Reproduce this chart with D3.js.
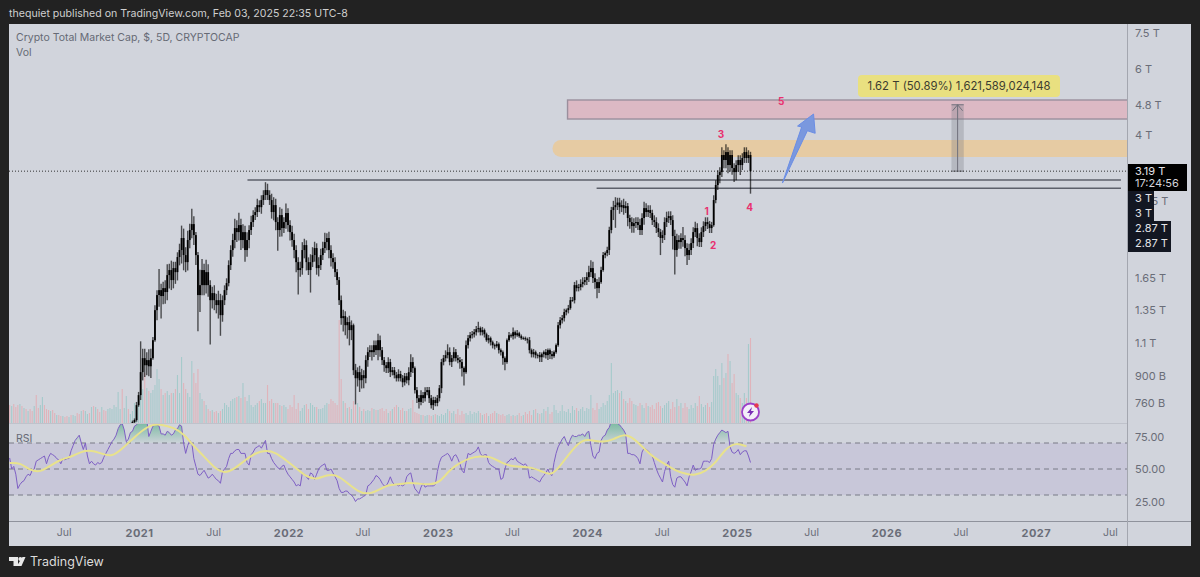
<!DOCTYPE html>
<html><head><meta charset="utf-8">
<script src="https://d3js.org/d3.v7.min.js"></script>
<style>html,body{margin:0;padding:0;background:#222;overflow:hidden}svg{display:block}text{font-family:Inter,Roboto,"Liberation Sans",sans-serif}</style>
</head><body><svg id="c" width="1200" height="577"></svg>
<script>
// ---- DATA ----
const lastBar = "2025-02-03";
const closes = [ // billions USD, 5D closes
675,684,750,798,920,1003,960,991,954,1003,1121,1350,1482,1528,1473,1547,1510,1677,1730,1626,
1751,1708,1875,1958,2109,1898,1817,2083,2216,2299,2148,1898,1482,1576,1730,1576,1708,1576,1436,1500,
1436,1393,1436,1309,1436,1528,1596,1784,1958,2083,
2243,2188,2285,2083,2188,1958,2083,2216,2328,
2431,2477,2586,2553,2668,2752,2838,2752,2668,2477,
2586,2328,2216,2431,2243,2328,2462,2285,2188,2083,
1958,1817,1730,1751,1958,2019,1817,1730,1817,1898,
1982,1751,1784,1898,1982,2057,2109,1958,1863,1817,
1708,1626,1436,1285,1301,1230,1254,1193,1230,
931,886,920,875,903,886,991,1041,1054,1041,
1087,1054,1121,1054,991,960,943,979,920,931,
903,886,909,886,864,897,875,920,979,943,
823,783,765,798,783,813,823,783,750,774,
760,783,833,979,1003,1022,1041,979,1003,1041,
1003,991,979,943,920,1087,1135,1156,1163,1178,
1200,1208,1178,1193,1163,1121,1135,1107,1087,1080,
1094,1054,1041,1003,979,1121,1156,1149,1178,1156,
1170,1149,1135,1135,1128,1121,1054,1028,1041,1022,
1022,1009,1028,1041,1022,1054,1028,1016,1041,1087,
1230,1269,1285,1334,1350,1367,1436,1436,1576,1547,
1557,1586,1606,1626,1656,1708,1751,1646,1606,1547,1606,
1730,1898,1922,1958,2216,2508,2553,2586,
2627,2553,2586,2538,2570,2387,2328,2271,2313,2328,
2285,2216,2387,2538,2477,2508,2462,2357,2328,2243,
2188,2109,2148,2328,2387,2416,2357,2135,1958,2083,
2057,2109,2083,1982,1898,1958,2044,2188,2243,2109,
2057,2188,2271,2328,2299,2243,2285,2668,2928,3114,
3172,3525,3418,3590,3313,3525,3252,3172,3313,3418,
3313,3460,3590,3460,3525,3190];
const wickUp = [ // percent above the body
1,1,2,2,21,6,6,5,7,6, 2,3,3,14,4,4,5,7,4,6, 4,4,3,4,8,6,5,6,4,10, 5,2,2,10,7,4,8,5,3,4, 5,4,6,4,3,3,3,3,3,4,
6,5,8,4,5,4,5,3,4, 3,3,4,3,3,3,5,4,3,4, 5,4,3,5,4,3,6,3,3,4, 4,3,3,4,5,4,3,3,5,5, 4,3,5,4,4,6,3,4,3,3,
3,2,2,3,4,3,3,4,3, 1,4,3,4,4,3,3,3,3,3, 3,3,4,3,2,2,2,3,2,2, 2,2,3,2,2,2,2,3,5,3, 1,2,2,3,2,3,2,2,2,2,
2,2,2,2,2,3,5,3,2,3, 2,2,2,2,1,3,2,2,2,2, 2,4,1,2,1,1,2,1,1,1, 2,1,1,1,1,1,2,1,3,1, 2,1,1,1,1,1,2,1,2,1,
1,2,1,1,2,1,1,2,1,1, 2,2,2,2,1,2,2,2,2,3, 2,3,3,2,3,4,5,4,3,2,3,
2,2,1,2,2,2,4,5, 3,3,3,4,3,2,2,3,3,3, 3,4,3,4,3,3,3,2,3,3, 3,2,3,3,4,3,3,3,4,4, 3,3,7,3,3,4,3,3,4,3,
3,3,3,3,3,2,2,3,3,3, 3,5,3,5,3,3,3,3,3,3, 3,3,3,3,3,2];
const wickDown = [ // percent below the body
0,1,1,1,3,5,7,6,6,7, 1,1,6,7,13,5,7,5,8,6, 5,7,5,5,8,9,6,5,5,5, 6,6,20,10,6,6,5,7,24,5, 6,5,8,12,4,3,3,2,3,4,
5,6,5,6,5,7,4,5,3, 3,3,3,3,4,3,3,3,3,4, 5,5,12,4,5,3,4,4,5,4, 5,6,14,4,4,5,5,3,13,3, 4,4,5,3,3,3,5,5,5,4,
3,3,3,4,8,6,8,9,6, 3,15,5,7,5,6,3,4,3,5, 3,3,6,4,3,4,3,3,3,2, 2,2,2,2,3,2,2,3,3,3, 2,3,4,2,3,2,2,3,2,3,
2,2,2,3,2,2,2,2,3,2, 2,2,4,5,8,1,2,2,2,2, 2,2,2,2,2,1,2,2,2,2, 1,2,2,4,5,1,1,1,2,2, 1,1,1,1,1,2,2,2,2,2,
2,3,3,2,2,3,3,2,1,1, 1,2,2,2,2,2,1,1,2,2, 2,2,2,2,3,3,3,3,4,6,3,
1,1,2,2,3,2,6,12, 3,4,3,4,3,5,4,4,4,3, 3,3,3,4,3,3,3,3,3,3, 3,10,3,3,3,3,3,8,14,4, 4,4,4,5,6,3,3,3,3,5,
3,3,3,3,3,3,3,1,2,3, 5,3,5,5,5,4,4,6,5,4, 6,3,3,3,3,13];
const volumes = [ // relative volume, 5D bars
18,17,19,16,18,19,17,15,14,12, 14,12,17,28,15,18,26,18,14,13, 12,13,10,8,8,7,7,6,7,6, 8,8,7,10,9,12,13,12,9,10,
16,17,16,14,11,16,13,12,14,15, 14,18,16,31,14,34,15,27,14,9, 12,20,18,22,30,34,50,35,32,30, 33,38,54,44,34,28,30,32,28,30,
30,34,48,30,66,40,34,30,26,62, 50,40,54,30,24,22,18,14,12,13, 11,12,10,12,14,20,18,16,22,24, 25,26,27,25,40,26,22,28,18,16,
18,20,22,24,20,20,38,22,24,20, 20,20,18,17,18,16,14,18,16,28, 14,20,12,15,18,19,14,20,18,16, 16,14,14,15,18,20,19,24,22,20,
18,103,44,22,20,15,16,14,22,18, 20,16,12,14,12,13,12,15,14,13, 13,14,15,12,14,10,12,14,16,18, 16,13,15,12,12,14,15,23,11,10,
9,8,8,7,8,8,7,8,9,8, 7,9,8,10,14,12,10,12,9,14, 8,12,9,10,8,12,9,11,10,12, 10,8,9,10,7,9,10,12,10,9,
8,9,7,8,9,7,8,7,8,10, 7,8,11,9,12,8,13,14,10,9, 10,14,12,16,9,11,18,13,10,12, 18,12,11,14,10,17,13,15,12,14,
16,12,15,14,28,15,13,20,14,16, 20,18,22,28,60,30,32,33,30,32, 24,22,20,25,22,19,18,17,20,18, 15,20,17,16,18,14,20,21,17,15,
18,20,22,14,21,16,24,17,20,15, 20,16,14,18,15,20,17,27,19,16, 18,20,16,21,47,54,47,38,60,45, 50,69,62,40,49,30,28,25,20,30, 25,79,85];
const earlyVolDirs = "dudddudududdudduudddudduddudduduudduduudududdudduuuuuuuduudud";
const rsi = [
58.5,50,52,46,35,38,40,41,44,46,45,49,50,56,57,58,59,60,54,59,62,61,60,58,57,54,58,57,58,58,
64,68,72,74,76,70,65,70,60,54,56,54,53,55,54,55,59,62,65,68,71,73,76,81,84,85,80,71,73,78,
79,83,84,86,88,89,90,88,75,79,83,84,84,83,77,77,76,79,78,76,77,80,81,84,83,70,62,68,72,70,
58,52,46,45,47,49,46,43,44,46,44,42,41,39,48,50,52,58,62,62,64,65,65,62,62,62,55,53,61,63,
66,67,68,66,69,72,62,62,58,55,53,51,50,52,53,49,46,44,42,40,37,38,37,47,46,44,42,47,46,42,
46,50,52,53,54,49,49,50,47,44,41,35,32,32,33,33,31,30,28,25,27,27,28,29,30,37,38,40,42,45,
44,42,39,37,37,40,44,40,38,38,37,38,37,38,44,46,47,40,35,33,31,36,39,36,37,37,37,37,38,48,
55,59,60,61,62,60,56,60,61,58,54,49,47,55,62,61,62,63,64,67,62,60,61,61,55,53,52,51,50,50,
42,43,50,55,56,58,57,59,56,55,54,53,54,52,43,44,43,42,41,40,43,45,47,50,46,45,55,62,67,70,
73,75,71,68,73,76,75,75,76,76,77,75,78,79,68,60,58,62,63,72,75,76,80,82,87,88,86,85,84,82,
80,77,62,62,61,61,60,58,54,63,66,65,64,62,60,55,50,46,43,40,48,53,56,44,38,36,43,44,44,42,
40,37,44,48,53,49,50,50,51,56,56,56,55,58,69,73,76,78,80,79,78,79,67,63,62,63,65,61,63,64,
64,60,55];
const rsiMaEvery5 = [54.6,55,49,47.4,52.8,57.4,59.2,63.6,64.4,61.8,59.2,65.6,73,80,84.6,84,81.8,77.2,67.4,59.7,50.8,46.4,50.3,56.7,62.3,64.4,62.8,56.7,50.8,43.8,41.8,45.6,45.6,39.2,32.8,30.3,33.6,38,38,39.7,38.7,38,39.2,49.5,54.6,58.7,59.7,59.7,55,52,51.8,51.3,48.2,44.4,54.6,64.9,73,72,70.5,72.6,77.2,73.8,65.6,58.5,54,49,46.4,44.9,48.2,54.6,66.2,70.3,67.4];
const priceTicks = [7500,6000,4800,4000,2650,1650,1350,1100,900,760];
const priceTickLabels = ["7.5 T","6 T","4.8 T","4 T","2.65 T","1.65 T","1.35 T","1.1 T","900 B","760 B"];
const rsiTicks = [75,50,25];
const rsiBands = [70,50,30];
const timeTicks = ["2020-07-01","2021-01-01","2021-07-01","2022-01-01","2022-07-01","2023-01-01","2023-07-01","2024-01-01","2024-07-01","2025-01-01","2025-07-01","2026-01-01","2026-07-01","2027-01-01","2027-07-01"];
const timeLabels = ["Jul","2021","Jul","2022","Jul","2023","Jul","2024","Jul","2025","Jul","2026","Jul","2027","Jul"];
const levelLines = [[ "2021-09-23",3020 ],[ "2024-01-24",2870 ]];
const levelEnd = "2027-07-28";
const lastPrice = 3190;
const redZone = {start:"2023-11-14",hi:4955,lo:4405};
const orangeZone = {start:"2023-10-29",hi:3868,lo:3481};
const arrowPts = [["2025-04-22",2964],["2025-06-08",4192],["2025-05-29",4218],["2025-07-07",4543],["2025-07-11",4033],["2025-06-22",4097]];
const range = {date:"2026-06-24",from:3190,to:4811,halfDays:15};
const waveLabels = [["1","2024-10-19",2490],["2","2024-11-04",2019],["3","2024-11-23",4010],["4","2025-02-01",2540],["5","2025-04-19",4894]];
const axisBoxes = [["3.19 T",164,191,59,"#000"],["3 T",191,206,26,"#131722"],["3 T",206,221,26,"#131722"],["2.87 T",221,236,43,"#131722"],["2.87 T",236,252,43,"#131722"]];

// ---- CHART ----
const svg = d3.select("#c");
const L=9,R=1191,T=24,B=546,PR=1127,VB=423,RB=521;
const D = s => new Date(s+"T00:00:00Z");
const x = d3.scaleUtc().domain([D("2021-01-01"),D("2025-01-01")]).range([139,737]);
const y = d3.scaleLog().domain([760,7500]).range([403,33]);
const yR = d3.scaleLinear().domain([25,75]).range([501.5,436.5]);
const yV = d3.scaleLinear().domain([0,110]).range([VB,VB-110]);
const n = rsi.length, last = D(lastBar);
const dates = d3.range(n).map(i=>d3.utcDay.offset(last,-5*(n-1-i)));
const first = n-closes.length;

const defs = svg.append("defs");
defs.append("clipPath").attr("id","pane").append("rect").attr("x",L).attr("y",T).attr("width",PR-L).attr("height",VB-T);
defs.append("clipPath").attr("id","rp").append("rect").attr("x",L).attr("y",VB+1).attr("width",PR-L).attr("height",RB-VB-1);
defs.append("clipPath").attr("id","ob").append("rect").attr("x",L).attr("y",VB+1).attr("width",PR-L).attr("height",yR(70)-VB-1);
const grad = defs.append("linearGradient").attr("id","g").attr("x1",0).attr("x2",0).attr("y1",0).attr("y2",1)
 .attr("gradientUnits","userSpaceOnUse").attr("y1",VB).attr("y2",yR(70));
grad.append("stop").attr("offset",0).attr("stop-color","#22a065").attr("stop-opacity",.48);
grad.append("stop").attr("offset",1).attr("stop-color","#22a065").attr("stop-opacity",.03);

svg.append("rect").attr("width",1200).attr("height",577).attr("fill","#222222");
svg.append("rect").attr("x",L).attr("y",T).attr("width",R-L).attr("height",B-T).attr("fill","#d1d4dc");

svg.append("text").attr("x",9).attr("y",17).attr("fill","#cfcfcf").attr("font-size",10.6).text("thequiet published on TradingView.com, Feb 03, 2025 22:35 UTC-8");
svg.append("text").attr("x",16).attr("y",41).attr("fill","#666a75").attr("font-size",10.5).text("Crypto Total Market Cap, $, 5D, CRYPTOCAP");
svg.append("text").attr("x",16).attr("y",56).attr("fill","#666a75").attr("font-size",10.5).text("Vol");

const pane = svg.append("g").attr("clip-path","url(#pane)");
// zones
pane.append("rect").attr("x",x(D(redZone.start))).attr("y",y(redZone.hi)).attr("width",PR-x(D(redZone.start))+4).attr("height",y(redZone.lo)-y(redZone.hi))
 .attr("fill","#dcb9c4").attr("stroke","#9b8f9d").attr("stroke-width",1.4);
const oh=y(orangeZone.lo)-y(orangeZone.hi), ox=x(D(orangeZone.start));
pane.append("line").attr("x1",ox).attr("x2",PR+20).attr("y1",y(orangeZone.hi)+oh/2).attr("y2",y(orangeZone.hi)+oh/2)
 .attr("stroke","#e6cba3").attr("stroke-width",oh).attr("stroke-linecap","round");

// volume
const volColor=i=>{
  const up = i<first ? earlyVolDirs[i]==="u" : (i===first||closes[i-first]>=closes[i-first-1]);
  return up ? "#a5cacb" : "#e0b3ba";
};
pane.append("g").selectAll("rect").data(volumes).join("rect")
 .attr("x",(d,i)=>x(dates[i])-.55).attr("width",1.1)
 .attr("y",d=>yV(d)).attr("height",d=>VB-yV(d)).attr("fill",(d,i)=>volColor(i));

// range tool
const rx=x(D(range.date)), rw=x(d3.utcDay.offset(D(range.date),range.halfDays))-rx;
pane.append("rect").attr("x",rx-rw).attr("width",2*rw).attr("y",y(range.to)).attr("height",y(range.from)-y(range.to)).attr("fill","#787b86").attr("opacity",.32);
const rg=pane.append("g").attr("stroke","#70717c").attr("stroke-width",1).attr("fill","none");
rg.append("line").attr("x1",rx).attr("x2",rx).attr("y1",y(range.from)).attr("y2",y(range.to));
rg.append("line").attr("x1",rx-rw).attr("x2",rx+rw).attr("y1",y(range.from)).attr("y2",y(range.from));
rg.append("line").attr("x1",rx-rw).attr("x2",rx+rw).attr("y1",y(range.to)).attr("y2",y(range.to));
rg.append("path").attr("d",d3.line()([[rx-5,y(range.to)+6],[rx,y(range.to)],[rx+5,y(range.to)+6]]));

// level lines
pane.append("line").attr("x1",L).attr("x2",PR).attr("y1",y(lastPrice)).attr("y2",y(lastPrice)).attr("stroke","#333").attr("stroke-width",1).attr("stroke-dasharray","1,2");
levelLines.forEach(l=>pane.append("line").attr("x1",x(D(l[0]))).attr("x2",x(D(levelEnd))).attr("y1",y(l[1])).attr("y2",y(l[1])).attr("stroke","#5d606b").attr("stroke-width",1.5));

// candles
const candles = closes.map((c,i)=>{const o=i?closes[i-1]:c*.97;return{o,c,h:Math.max(o,c)*(1+wickUp[i]/100),l:Math.min(o,c)*(1-wickDown[i]/100),d:dates[first+i]}});
const cg=pane.append("g");
cg.selectAll("line").data(candles).join("line").attr("x1",d=>x(d.d)).attr("x2",d=>x(d.d)).attr("y1",d=>y(d.h)).attr("y2",d=>y(d.l)).attr("stroke","#000").attr("stroke-opacity",.65).attr("stroke-width",1.4);
cg.selectAll("rect").data(candles).join("rect").attr("x",d=>x(d.d)-.9).attr("width",1.8).attr("y",d=>y(Math.max(d.o,d.c))).attr("height",d=>Math.max(.8,Math.abs(y(d.o)-y(d.c)))).attr("fill","#000");

// arrow
pane.append("path").attr("d",d3.line().x(d=>x(D(d[0]))).y(d=>y(d[1]))(arrowPts)+"Z").attr("fill","#7a98de").attr("stroke","#6a8de6").attr("stroke-width",1);

// wave labels
svg.append("g").selectAll("text").data(waveLabels).join("text").attr("x",d=>x(D(d[1]))).attr("y",d=>y(d[2])+3.5).attr("text-anchor","middle").attr("fill","#e8316f").attr("font-size",10).attr("font-weight",700).text(d=>d[0]);

// range label
svg.append("rect").attr("x",858).attr("y",75).attr("width",202).attr("height",22).attr("rx",4).attr("fill","#e9e080");
svg.append("text").attr("x",959).attr("y",90).attr("text-anchor","middle").attr("fill","#3c3c30").attr("font-size",11.3).text("1.62 T (50.89%) 1,621,589,024,148");

// bolt badge
const bx=x(D("2025-02-03")),by=412;
svg.append("circle").attr("cx",bx).attr("cy",by).attr("r",8.5).attr("fill","#f3eef8").attr("stroke","#9c3fc8").attr("stroke-width",1.8);
svg.append("path").attr("transform",`translate(${bx},${by})`).attr("d","M1.5,-5 L-3.5,1 L-0.5,1 L-1.5,5 L3.5,-1 L0.5,-1 Z").attr("fill","#7a2fb5");
svg.append("circle").attr("cx",bx+6).attr("cy",by-6.5).attr("r",2.2).attr("fill","#e63950");

// RSI pane
const rp=svg.append("g").attr("clip-path","url(#rp)");
rp.append("rect").attr("x",L).attr("width",PR-L).attr("y",yR(70)).attr("height",yR(30)-yR(70)).attr("fill","#7e57c2").attr("opacity",.1);
rsiBands.forEach(v=>rp.append("line").attr("x1",L).attr("x2",PR).attr("y1",yR(v)).attr("y2",yR(v)).attr("stroke","#787b86").attr("stroke-dasharray","5,4"));
const ser=rsi.map((v,i)=>({v,d:dates[i]}));
rp.append("path").attr("clip-path","url(#ob)").attr("d",d3.area().x(d=>x(d.d)).y0(yR(70)).y1(d=>yR(d.v))(ser)).attr("fill","url(#g)");
rp.append("path").attr("d",d3.line().x(d=>x(d.d)).y(d=>yR(d.v))(ser)).attr("fill","none").attr("stroke","#7e5fc4").attr("stroke-width",1);
rp.append("path").attr("d",d3.line().curve(d3.curveBasis).x(d=>x(dates[d[0]])).y(d=>yR(d[1]))(rsiMaEvery5.map((v,j)=>[j*5,v]))).attr("fill","none").attr("stroke","#e8e28c").attr("stroke-width",2);
svg.append("text").attr("x",16).attr("y",442).attr("fill","#666a75").attr("font-size",10.5).text("RSI");

// separators
svg.append("line").attr("x1",L).attr("x2",PR).attr("y1",VB+.5).attr("y2",VB+.5).attr("stroke","#bfc2cb");
svg.append("line").attr("x1",L).attr("x2",R).attr("y1",RB+.5).attr("y2",RB+.5).attr("stroke","#8f929c").attr("stroke-width",1);
svg.append("line").attr("x1",PR+.5).attr("x2",PR+.5).attr("y1",T).attr("y2",B).attr("stroke","#a3a6af");

// axes
const ay=svg.append("g").attr("transform",`translate(${PR},0)`).call(d3.axisRight(y).tickValues(priceTicks).tickSize(0).tickPadding(8).tickFormat((d,i)=>priceTickLabels[i]));
ay.select(".domain").remove();
ay.selectAll("text").attr("fill","#6a6d78").attr("font-size",11);
const ar=svg.append("g").attr("transform",`translate(${PR},0)`).call(d3.axisRight(yR).tickValues(rsiTicks).tickSize(0).tickPadding(8).tickFormat(d3.format(".2f")));
ar.select(".domain").remove();
ar.selectAll("text").attr("fill","#6a6d78").attr("font-size",11);
const ax=svg.append("g").attr("transform",`translate(0,${RB+5})`).call(d3.axisBottom(x).tickValues(timeTicks.map(D)).tickSize(0).tickPadding(3).tickFormat((d,i)=>timeLabels[i]));
ax.select(".domain").remove();
ax.selectAll("text").attr("fill","#6a6d78").attr("font-size",(d,i)=>timeLabels[i]==="Jul"?10.5:11).attr("font-weight",(d,i)=>timeLabels[i]==="Jul"?400:700).attr("letter-spacing",(d,i)=>timeLabels[i]==="Jul"?0:.5);

// axis price boxes
const ab=svg.append("g");
axisBoxes.forEach(b=>{
  ab.append("rect").attr("x",PR+1).attr("y",b[1]).attr("width",b[3]).attr("height",b[2]-b[1]).attr("fill",b[4]);
  ab.append("text").attr("x",PR+8).attr("y",b[1]+11).attr("fill","#e4e4e8").attr("font-size",11).text(b[0]);
});
ab.append("text").attr("x",PR+8).attr("y",187).attr("fill","#d5d5da").attr("font-size",11).text("17:24:56");

// footer logo
const lg=svg.append("g").attr("fill","#e8e8e8");
lg.append("path").attr("d","M9,557 H18 V566 H13.5 V561 H9 Z");
lg.append("circle").attr("cx",20.3).attr("cy",559).attr("r",2);
lg.append("path").attr("d","M22.5,557 H25.5 L21.5,566 H16.8 Z");
svg.append("text").attr("x",30).attr("y",566).attr("fill","#dcdcdc").attr("font-size",12.5).text("TradingView");
</script></body></html>
